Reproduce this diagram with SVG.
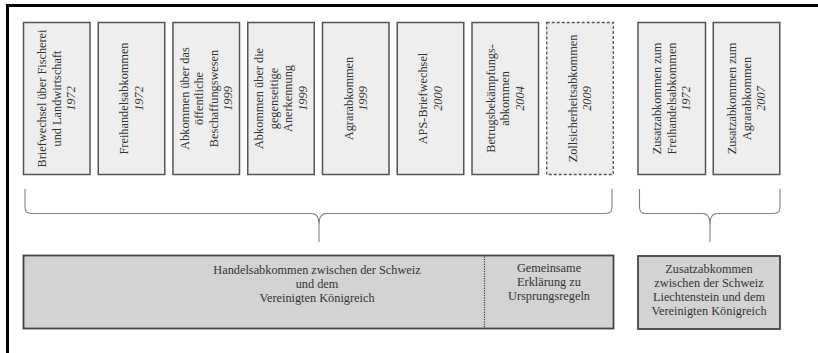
<svg xmlns="http://www.w3.org/2000/svg" width="818" height="353" viewBox="0 0 818 353">
<style>
.box{fill:#eeeeee;stroke:#555555;stroke-width:1.5}
.dash{fill:#eeeeee;stroke:#555555;stroke-width:1.3;stroke-dasharray:3,2}
.bot{fill:#d3d3d4;stroke:#444444;stroke-width:1.8}
.t{font-family:"Liberation Serif","Times New Roman",serif;font-size:12.3px;fill:#333333;text-anchor:middle}
.i{font-style:italic}
.brace{fill:none;stroke:#808080;stroke-width:1.1}
</style>
<rect width="818" height="353" fill="#ffffff"/>
<path d="M7.5,353 V5.5 H818" fill="none" stroke="#000000" stroke-width="3"/>

<g id="n1">
<rect class="box" x="23.5" y="22.5" width="66.5" height="152"/>
<text class="t" transform="translate(56.75,98.5) rotate(-90)"><tspan x="0" y="-10.5">Briefwechsel über Fischerei</tspan><tspan x="0" y="4">und Landwirtschaft</tspan><tspan class="i" x="0" y="18.5">1972</tspan></text>
</g>
<g id="n2">
<rect class="box" x="98.25" y="22.5" width="66.5" height="152"/>
<text class="t" transform="translate(131.5,98.5) rotate(-90)"><tspan x="0" y="-3.25">Freihandelsabkommen</tspan><tspan class="i" x="0" y="11.25">1972</tspan></text>
</g>
<g id="n3">
<rect class="box" x="173" y="22.5" width="66.5" height="152"/>
<text class="t" transform="translate(206.25,98.5) rotate(-90)"><tspan x="0" y="-17.75">Abkommen über das</tspan><tspan x="0" y="-3.25">öffentliche</tspan><tspan x="0" y="11.25">Beschaffungswesen</tspan><tspan class="i" x="0" y="25.75">1999</tspan></text>
</g>
<g id="n4">
<rect class="box" x="247.75" y="22.5" width="66.5" height="152"/>
<text class="t" transform="translate(281,98.5) rotate(-90)"><tspan x="0" y="-17.75">Abkommen über die</tspan><tspan x="0" y="-3.25">gegenseitige</tspan><tspan x="0" y="11.25">Anerkennung</tspan><tspan class="i" x="0" y="25.75">1999</tspan></text>
</g>
<g id="n5">
<rect class="box" x="322.5" y="22.5" width="66.5" height="152"/>
<text class="t" transform="translate(355.75,98.5) rotate(-90)"><tspan x="0" y="-3.25">Agrarabkommen</tspan><tspan class="i" x="0" y="11.25">1999</tspan></text>
</g>
<g id="n6">
<rect class="box" x="397.25" y="22.5" width="66.5" height="152"/>
<text class="t" transform="translate(430.5,98.5) rotate(-90)"><tspan x="0" y="-3.25">APS-Briefwechsel</tspan><tspan class="i" x="0" y="11.25">2000</tspan></text>
</g>
<g id="n7">
<rect class="box" x="472" y="22.5" width="66.5" height="152"/>
<text class="t" transform="translate(505.25,98.5) rotate(-90)"><tspan x="0" y="-10.5">Betrugsbekämpfungs-</tspan><tspan x="0" y="4">abkommen</tspan><tspan class="i" x="0" y="18.5">2004</tspan></text>
</g>
<g id="n8">
<rect class="dash" x="546.75" y="22.5" width="66.5" height="152"/>
<text class="t" transform="translate(580,98.5) rotate(-90)"><tspan x="0" y="-3.25">Zollsicherheitsabkommen</tspan><tspan class="i" x="0" y="11.25">2009</tspan></text>
</g>
<g id="n9">
<rect class="box" x="638" y="22.5" width="67.5" height="152"/>
<text class="t" transform="translate(671.75,98.5) rotate(-90)"><tspan x="0" y="-10.5">Zusatzabkommen zum</tspan><tspan x="0" y="4">Freihandelsabkommen</tspan><tspan class="i" x="0" y="18.5">1972</tspan></text>
</g>
<g id="n10">
<rect class="box" x="713.25" y="22.5" width="66.5" height="152"/>
<text class="t" transform="translate(746.5,98.5) rotate(-90)"><tspan x="0" y="-10.5">Zusatzabkommen zum</tspan><tspan x="0" y="4">Agrarabkommen</tspan><tspan class="i" x="0" y="18.5">2007</tspan></text>
</g>

<g id="connectors">
<path class="brace" d="M25,189 V207 Q25,213.5 31,213.5 H312 Q319,213.5 319,225 V242 M319,225 Q319,213.5 326,213.5 H606 Q612,213.5 612,207 V189"/>
<path class="brace" d="M639.5,189 V207 Q639.5,213.5 645.5,213.5 H703 Q710,213.5 710,225 V242 M710,225 Q710,213.5 717,213.5 H774 Q780,213.5 780,207 V189"/>
</g>

<g id="n11">
<rect class="bot" x="23.5" y="255.5" width="590" height="73"/>
<line x1="484.5" y1="256.5" x2="484.5" y2="327.5" stroke="#444444" stroke-width="1.2" stroke-dasharray="1.2,1.2"/>
<text class="t"><tspan x="317" y="273.5">Handelsabkommen zwischen der Schweiz</tspan><tspan x="317" y="287.5">und dem</tspan><tspan x="317" y="301.5">Vereinigten Königreich</tspan></text>
</g>
<g id="n12">
<text class="t"><tspan x="549" y="272">Gemeinsame</tspan><tspan x="549" y="286">Erklärung zu</tspan><tspan x="549" y="300">Ursprungsregeln</tspan></text>
</g>
<g id="n13">
<rect class="bot" x="638" y="256" width="142" height="73"/>
<text class="t"><tspan x="709" y="273">Zusatzabkommen</tspan><tspan x="709" y="287">zwischen der Schweiz</tspan><tspan x="709" y="301">Liechtenstein und dem</tspan><tspan x="709" y="315">Vereinigten Königreich</tspan></text>
</g>
</svg>
